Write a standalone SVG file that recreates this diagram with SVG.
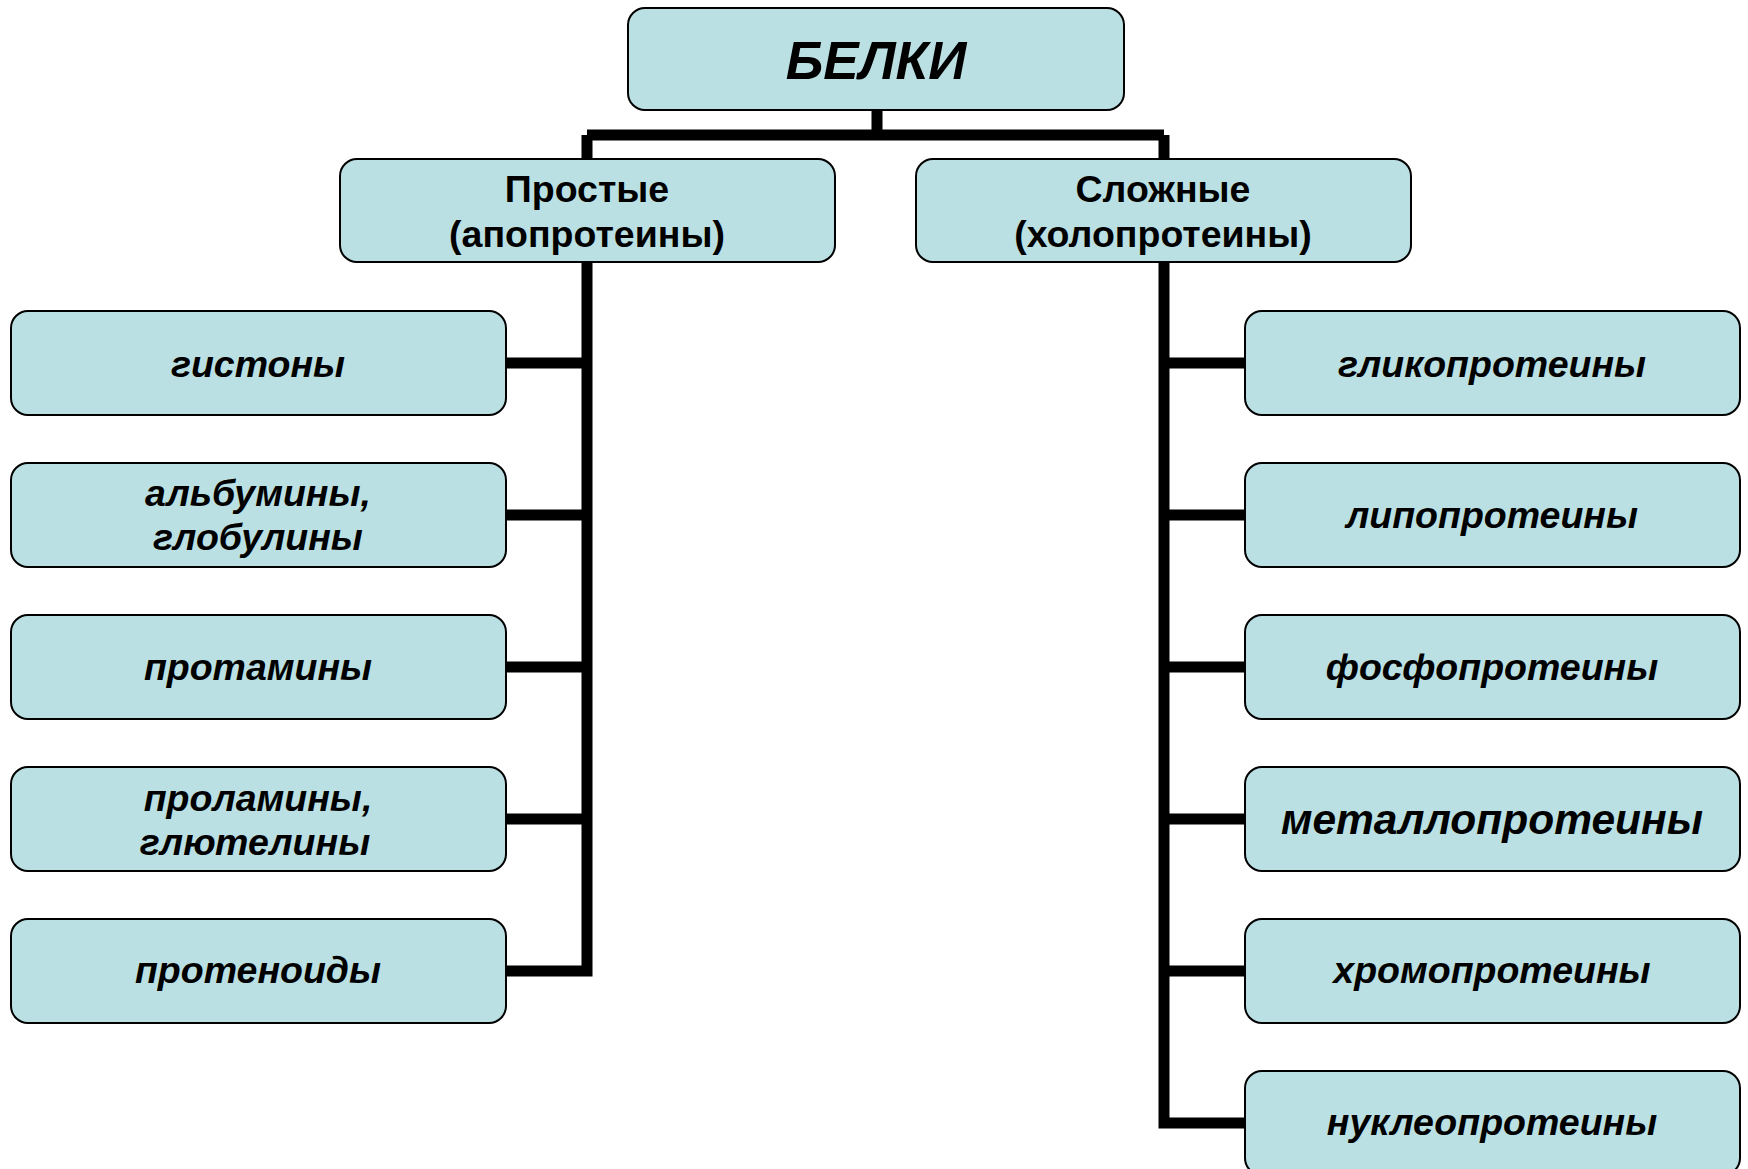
<svg xmlns="http://www.w3.org/2000/svg" width="1748" height="1169" viewBox="0 0 1748 1169">
<style>
.box{fill:#BAE0E3;stroke:#000;stroke-width:2}
.t{font-family:"Liberation Sans",Arial,sans-serif;font-weight:bold;fill:#000;text-anchor:middle}
.i{font-style:italic;font-size:37.5px}
.h{font-size:37.5px}
.c{fill:none;stroke:#000;stroke-width:11;stroke-linejoin:miter;stroke-linecap:butt}
</style>
<rect width="1748" height="1169" fill="#fff"/>
<g id="connectors">
<path class="c" d="M877 110V135M587 135H1164M587 135V159M1164 135V159"/>
<path class="c" d="M587 262V971H506M587 363H506M587 515H506M587 667H506M587 819H506"/>
<path class="c" d="M1164 262V1123H1245M1164 363H1245M1164 515H1245M1164 667H1245M1164 819H1245M1164 971H1245"/>
</g>
<g id="n-belki"><rect class="box" x="628" y="8" width="496" height="102" rx="17"/><text class="t" x="876" y="79" font-size="53" font-style="italic">БЕЛКИ</text></g>
<g id="n-prostye"><rect class="box" x="340" y="159" width="495" height="103" rx="17"/><text class="t h" x="587" y="202">Простые</text><text class="t h" x="587" y="247">(апопротеины)</text></g>
<g id="n-slozhnye"><rect class="box" x="916" y="159" width="495" height="103" rx="17"/><text class="t h" x="1163" y="202">Сложные</text><text class="t h" x="1163" y="247">(холопротеины)</text></g>
<g id="n-gistony"><rect class="box" x="11" y="311" width="495" height="104" rx="17"/><text class="t i" x="258" y="377">гистоны</text></g>
<g id="n-albuminy"><rect class="box" x="11" y="463" width="495" height="104" rx="17"/><text class="t i" x="258" y="506">альбумины,</text><text class="t i" x="258" y="550">глобулины</text></g>
<g id="n-protaminy"><rect class="box" x="11" y="615" width="495" height="104" rx="17"/><text class="t i" x="258" y="680">протамины</text></g>
<g id="n-prolaminy"><rect class="box" x="11" y="767" width="495" height="104" rx="17"/><text class="t i" x="258" y="811">проламины,</text><text class="t i" x="255" y="855">глютелины</text></g>
<g id="n-protenoidy"><rect class="box" x="11" y="919" width="495" height="104" rx="17"/><text class="t i" x="258" y="983">протеноиды</text></g>
<g id="n-gliko"><rect class="box" x="1245" y="311" width="495" height="104" rx="17"/><text class="t i" x="1492" y="377">гликопротеины</text></g>
<g id="n-lipo"><rect class="box" x="1245" y="463" width="495" height="104" rx="17"/><text class="t i" x="1492" y="528">липопротеины</text></g>
<g id="n-fosfo"><rect class="box" x="1245" y="615" width="495" height="104" rx="17"/><text class="t i" x="1492" y="680">фосфопротеины</text></g>
<g id="n-metallo"><rect class="box" x="1245" y="767" width="495" height="104" rx="17"/><text class="t" x="1492" y="834" font-size="42.5" font-style="italic">металлопротеины</text></g>
<g id="n-hromo"><rect class="box" x="1245" y="919" width="495" height="104" rx="17"/><text class="t i" x="1492" y="983">хромопротеины</text></g>
<g id="n-nukleo"><rect class="box" x="1245" y="1071" width="495" height="104" rx="17"/><text class="t i" x="1492" y="1135">нуклеопротеины</text></g>
</svg>
